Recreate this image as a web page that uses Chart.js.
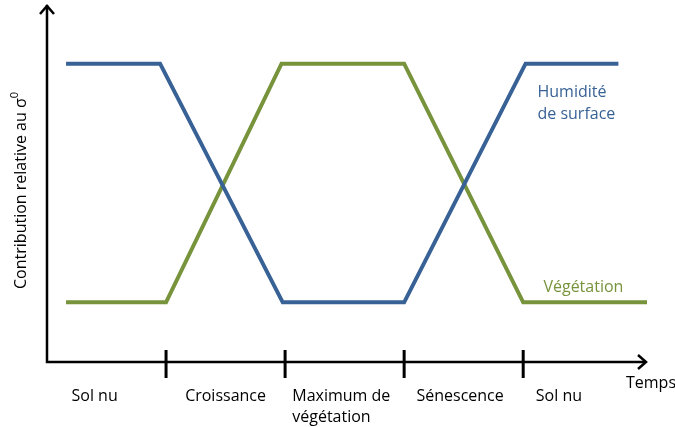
<!DOCTYPE html>
<html>
<head>
<meta charset="utf-8">
<script src="https://cdn.jsdelivr.net/npm/chart.js@4/dist/chart.umd.min.js"></script>
<style>
  html, body { margin: 0; padding: 0; background: #ffffff; }
  #wrap { width: 675px; height: 427px; }
</style>
</head>
<body>
<div id="wrap"><canvas id="chart" width="675" height="427"></canvas></div>
<script>
// Time in phase units (one unit per phase), contribution relative (0..1)
const humiditeX = [0.16, 0.95, 1.98, 3.0, 4.02, 4.8];
const humiditeY = [1.0, 1.0, 0.2, 0.2, 1.0, 1.0];
const vegetationX = [0.16, 1.0, 1.97, 3.0, 4.0, 5.04];
const vegetationY = [0.2, 0.2, 1.0, 1.0, 0.2, 0.2];

// phase boundaries (tick marks on the time axis)
const phaseTicks = [1, 2, 3, 4];
const phaseLabels = ['Sol nu', 'Croissance', ['Maximum de', 'végétation'], 'Sénescence', 'Sol nu'];
const phaseLabelX = [0.4, 1.5, 2.06, 3.47, 4.3];

const xMax = 5.04;
const yMax = 1.2;

const BLUE = '#386295';
const GREEN = '#77933c';
const FONT = '"Open Sans", "Noto Sans", sans-serif';

function toPoints(xs, ys) {
    return xs.map((x, i) => ({ x: x, y: ys[i] }));
}

// Draws the arrowed axes, the phase ticks and all the texts
const schemaPlugin = {
    id: 'schema',
    afterDraw(chart) {
        const ctx = chart.ctx;
        const xs = chart.scales.x;
        const ys = chart.scales.y;
        const x0 = xs.getPixelForValue(0);
        const y0 = ys.getPixelForValue(0);
        const xEnd = xs.getPixelForValue(xMax);
        const yEnd = ys.getPixelForValue(yMax);

        ctx.save();
        ctx.strokeStyle = '#000000';
        ctx.lineWidth = 2.5;
        ctx.lineCap = 'butt';

        // axes
        ctx.beginPath();
        ctx.moveTo(x0, yEnd + 1);
        ctx.lineTo(x0, y0);
        ctx.lineTo(xEnd - 1, y0);
        ctx.stroke();

        // arrow heads
        ctx.lineJoin = 'miter';
        ctx.beginPath();
        ctx.moveTo(x0 - 7, yEnd + 10);
        ctx.lineTo(x0, yEnd + 2);
        ctx.lineTo(x0 + 7, yEnd + 10);
        ctx.stroke();
        ctx.beginPath();
        ctx.moveTo(xEnd - 9, y0 - 7);
        ctx.lineTo(xEnd - 1, y0);
        ctx.lineTo(xEnd - 9, y0 + 7);
        ctx.stroke();

        // phase ticks
        ctx.lineWidth = 3;
        phaseTicks.forEach(t => {
            const px = xs.getPixelForValue(t);
            ctx.beginPath();
            ctx.moveTo(px, y0 - 12);
            ctx.lineTo(px, y0 + 16);
            ctx.stroke();
        });

        // phase labels
        ctx.fillStyle = '#000000';
        ctx.font = '16px ' + FONT;
        ctx.textBaseline = 'middle';
        phaseLabels.forEach((lab, i) => {
            const px = xs.getPixelForValue(phaseLabelX[i]);
            if (Array.isArray(lab)) {
                ctx.textAlign = 'left';
                lab.forEach((line, j) => ctx.fillText(line, px, y0 + 34 + j * 21));
            } else {
                ctx.textAlign = 'center';
                ctx.fillText(lab, px, y0 + 34);
            }
        });

        // time axis title
        ctx.textAlign = 'left';
        ctx.fillText('Temps', xEnd - 21, y0 + 21);

        // series labels
        ctx.fillStyle = BLUE;
        ctx.fillText('Humidité', xs.getPixelForValue(4.12), ys.getPixelForValue(0.905));
        ctx.fillText('de surface', xs.getPixelForValue(4.12), ys.getPixelForValue(0.83));
        ctx.fillStyle = GREEN;
        ctx.fillText('Végétation', xs.getPixelForValue(4.17), ys.getPixelForValue(0.25));

        // y axis title
        ctx.fillStyle = '#000000';
        ctx.translate(21, ys.getPixelForValue(0.575));
        ctx.rotate(-Math.PI / 2);
        ctx.font = '16px ' + FONT;
        const main = 'Contribution relative au σ';
        const w = ctx.measureText(main).width;
        ctx.font = '11px ' + FONT;
        const sw = ctx.measureText('0').width;
        ctx.font = '16px ' + FONT;
        ctx.textAlign = 'left';
        ctx.fillText(main, -(w + sw) / 2, 0);
        ctx.font = '11px ' + FONT;
        ctx.fillText('0', -(w + sw) / 2 + w, -6);
        ctx.restore();
    }
};

new Chart(document.getElementById('chart'), {
    type: 'line',
    data: {
        datasets: [
            {
                label: 'Humidité de surface',
                data: toPoints(humiditeX, humiditeY),
                borderColor: BLUE,
                borderWidth: 4,
                pointRadius: 0,
                tension: 0,
                fill: false
            },
            {
                label: 'Végétation',
                data: toPoints(vegetationX, vegetationY),
                borderColor: GREEN,
                borderWidth: 4,
                pointRadius: 0,
                tension: 0,
                fill: false
            }
        ]
    },
    options: {
        responsive: false,
        animation: false,
        layout: { padding: { left: 47, right: 28, top: 4, bottom: 65 } },
        scales: {
            x: { type: 'linear', min: 0, max: xMax, display: false },
            y: { type: 'linear', min: 0, max: yMax, display: false }
        },
        plugins: {
            legend: { display: false },
            tooltip: { enabled: false }
        }
    },
    plugins: [schemaPlugin]
});
</script>
</body>
</html>
